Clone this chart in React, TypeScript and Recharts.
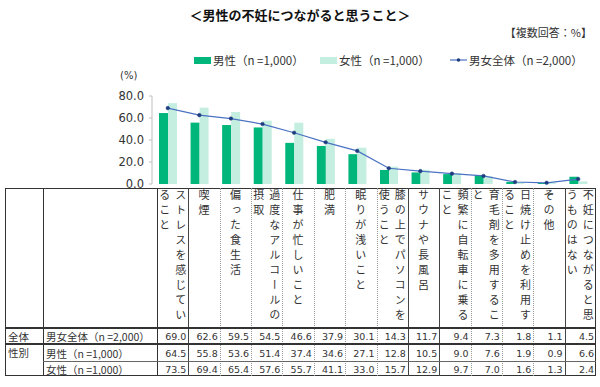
import React from 'react';
import { ComposedChart, Bar, Line, XAxis, YAxis, Legend } from 'recharts';

const categories = [
  'ストレスを感じていること',
  '喫煙',
  '偏った食生活',
  '過度なアルコールの摂取',
  '仕事が忙しいこと',
  '肥満',
  '眠りが浅いこと',
  '膝の上でパソコンを使うこと',
  'サウナや長風呂',
  '頻繁に自転車に乗ること',
  '育毛剤を多用すること',
  '日焼け止めを利用すること',
  'その他',
  '不妊につながると思うものはない',
];
const totalValues = [69.0, 62.6, 59.5, 54.5, 46.6, 37.9, 30.1, 14.3, 11.7, 9.4, 7.3, 1.8, 1.1, 4.5];
const maleValues = [64.5, 55.8, 53.6, 51.4, 37.4, 34.6, 27.1, 12.8, 10.5, 9.0, 7.6, 1.9, 0.9, 6.6];
const femaleValues = [73.5, 69.4, 65.4, 57.6, 55.7, 41.1, 33.0, 15.7, 12.9, 9.7, 7.0, 1.6, 1.3, 2.4];
const yTicks = [0, 20, 40, 60, 80];
const maleName = '男性（n =1,000）';
const femaleName = '女性（n =1,000）';
const totalName = '男女全体（n =2,000）';
const legendOrder = ['male', 'female', 'total'];
const groupLabels = ['全体', '性別', ''];
const rowLabels = ['男女全体（n =2,000）', '男性（n =1,000）', '女性（n =1,000）'];
const rowValues = [totalValues, maleValues, femaleValues];

const data = categories.map((c, i) => ({
  category: c,
  male: maleValues[i],
  female: femaleValues[i],
  total: totalValues[i],
}));

const MALE_COLOR = '#00B67A';
const FEMALE_COLOR = '#C4EEDF';
const LINE_COLOR = '#4A72C2';
const DOT_COLOR = '#1F3C80';
const TEXT = '#333333';
const JP = '"Noto Sans CJK JP", sans-serif';
const NUM = '"DejaVu Sans", "Noto Sans CJK JP", sans-serif';

// table layout
const T_LEFT = 5;
const T_RIGHT = 596;
const T_TOP = 188;
const H_BOTTOM = 328;
const R1_BOTTOM = 344;
const R2_BOTTOM = 361;
const T_BOTTOM = 376;
const C1 = 43;
const C2 = 157;
const COLW = (T_RIGHT - C2) / categories.length;
const rowTops = [H_BOTTOM, R1_BOTTOM, R2_BOTTOM];
const rowBottoms = [R1_BOTTOM, R2_BOTTOM, T_BOTTOM];
const solidEdges = new Set([1, 8, 9, 13]);
const legendItemWidths = [126, 130, 140];

const renderLegend = (props: any) => {
  const payload = [...(props.payload || [])].sort(
    (a: any, b: any) => legendOrder.indexOf(a.dataKey) - legendOrder.indexOf(b.dataKey)
  );
  return (
    <div style={{ display: 'flex', alignItems: 'center', fontFamily: JP, fontSize: 11.5, color: TEXT, whiteSpace: 'nowrap' }}>
      {payload.map((entry: any, i: number) => (
        <div key={i} style={{ display: 'flex', alignItems: 'center', width: legendItemWidths[i] }}>
          {entry.type === 'line' ? (
            <svg width={17} height={8} style={{ marginRight: 2 }}>
              <line x1={0} y1={4} x2={17} y2={4} stroke={LINE_COLOR} strokeWidth={1.2} />
              <circle cx={8.5} cy={4} r={1.8} fill={DOT_COLOR} />
            </svg>
          ) : (
            <div style={{ width: 17, height: 7, background: entry.color, marginRight: 2 }} />
          )}
          <span>{entry.value}</span>
        </div>
      ))}
    </div>
  );
};

function VerticalLabel({ text, index }: { text: string; index: number }) {
  const first = text.slice(0, 9);
  const rest = text.slice(9);
  const left = C2 + index * COLW;
  return (
    <div
      style={{
        position: 'absolute',
        left,
        top: T_TOP + 1,
        width: COLW,
        height: H_BOTTOM - T_TOP - 2,
        display: 'flex',
        justifyContent: 'center',
        overflow: 'visible',
      }}
    >
      <div
        style={{
          writingMode: 'vertical-rl',
          fontFamily: JP,
          fontSize: 11,
          letterSpacing: 4,
          lineHeight: '16px',
          height: 138,
          color: TEXT,
          whiteSpace: 'nowrap',
          flexShrink: 0,
        }}
      >
        {first}
        {rest ? <br /> : null}
        {rest}
      </div>
    </div>
  );
}

function Table() {
  const lines: React.ReactNode[] = [];
  lines.push(
    <div key="outer" style={{ position: 'absolute', left: T_LEFT, top: T_TOP, width: T_RIGHT - T_LEFT, height: T_BOTTOM - T_TOP, border: '1px solid #333', boxSizing: 'border-box' }} />
  );
  lines.push(<div key="c1" style={{ position: 'absolute', left: C1, top: T_TOP, width: 0, height: T_BOTTOM - T_TOP, borderLeft: '1px solid #333' }} />);
  lines.push(<div key="c2" style={{ position: 'absolute', left: C2, top: T_TOP, width: 0, height: T_BOTTOM - T_TOP, borderLeft: '1px solid #333' }} />);
  for (let i = 1; i < categories.length; i++) {
    const solid = solidEdges.has(i);
    lines.push(
      <div
        key={'v' + i}
        style={{
          position: 'absolute',
          left: Math.round(C2 + i * COLW),
          top: T_TOP,
          width: 0,
          height: T_BOTTOM - T_TOP,
          borderLeft: solid ? '1px solid #444' : '1px dotted #999',
        }}
      />
    );
  }
  lines.push(<div key="h1" style={{ position: 'absolute', left: T_LEFT, top: H_BOTTOM - 1, width: T_RIGHT - T_LEFT, height: 2, background: '#333' }} />);
  lines.push(<div key="h2" style={{ position: 'absolute', left: T_LEFT, top: R1_BOTTOM - 1, width: T_RIGHT - T_LEFT, height: 2, background: '#333' }} />);
  lines.push(<div key="h3" style={{ position: 'absolute', left: C1, top: R2_BOTTOM, width: T_RIGHT - C1, height: 1, background: '#666' }} />);

  const cells: React.ReactNode[] = [];
  rowLabels.forEach((label, r) => {
    const top = rowTops[r];
    const h = rowBottoms[r] - rowTops[r];
    if (groupLabels[r]) {
      cells.push(
        <div key={'g' + r} style={{ position: 'absolute', left: T_LEFT + 3, top: top + 1, height: 16, lineHeight: '16px', fontFamily: JP, fontSize: 10.5, color: TEXT }}>
          {groupLabels[r]}
        </div>
      );
    }
    cells.push(
      <div key={'l' + r} style={{ position: 'absolute', left: C1 + 3, top: top + 1, height: h, lineHeight: h + 'px', fontFamily: JP, fontSize: 10.5, color: TEXT, whiteSpace: 'nowrap' }}>
        {label}
      </div>
    );
    rowValues[r].forEach((v, i) => {
      cells.push(
        <div
          key={'n' + r + '-' + i}
          style={{
            position: 'absolute',
            left: C2 + i * COLW,
            top: top + 1,
            width: COLW - 2,
            height: h,
            lineHeight: h + 'px',
            textAlign: 'right',
            fontFamily: NUM,
            fontSize: 9.5,
            color: TEXT,
          }}
        >
          {v.toFixed(1)}
        </div>
      );
    });
  });

  return (
    <>
      {categories.map((c, i) => (
        <VerticalLabel key={c} text={c} index={i} />
      ))}
      {cells}
      {lines}
    </>
  );
}

export default function App() {
  return (
    <div style={{ position: 'absolute', left: 0, top: 0, width: 600, height: 387, background: '#fff', overflow: 'hidden' }}>
      <div style={{ position: 'absolute', left: 0, top: 5, width: 600, textAlign: 'center', fontFamily: JP, fontSize: 13, fontWeight: 700, color: '#111' }}>
        ＜男性の不妊につながると思うこと＞
      </div>
      <div style={{ position: 'absolute', right: 8, top: 24, fontFamily: JP, fontSize: 11, color: TEXT }}>【複数回答：%】</div>
      <div style={{ position: 'absolute', left: 120, top: 70, fontFamily: NUM, fontSize: 10, color: TEXT }}>(%)</div>
      <div style={{ position: 'absolute', left: 0, top: 0 }}>
        <ComposedChart width={600} height={200} data={data} margin={{ top: 96, right: 6, bottom: 16, left: 0 }} barGap={0}>
          <XAxis dataKey="category" hide />
          <YAxis
            width={152}
            domain={[0, 80]}
            ticks={yTicks}
            tickFormatter={(v: number) => v.toFixed(1)}
            axisLine={{ stroke: '#BFBFBF' }}
            tickLine={{ stroke: '#BFBFBF' }}
            tickSize={3}
            tickMargin={5}
            tick={{ fill: TEXT, fontSize: 11.5, fontFamily: NUM }}
            interval={0}
          />
          <Legend
            verticalAlign="middle"
            align="center"
            layout="horizontal"
            wrapperStyle={{ top: 52, left: 194, width: 400, height: 16 }}
            content={renderLegend}
          />
          <Bar dataKey="male" name={maleName} fill={MALE_COLOR} barSize={9} isAnimationActive={false} />
          <Bar dataKey="female" name={femaleName} fill={FEMALE_COLOR} barSize={9} isAnimationActive={false} />
          <Line
            dataKey="total"
            name={totalName}
            type="linear"
            stroke={LINE_COLOR}
            strokeWidth={1.2}
            dot={{ r: 1.8, fill: DOT_COLOR, stroke: DOT_COLOR, strokeWidth: 0.5 }}
            activeDot={false}
            isAnimationActive={false}
          />
        </ComposedChart>
      </div>
      <Table />
    </div>
  );
}
